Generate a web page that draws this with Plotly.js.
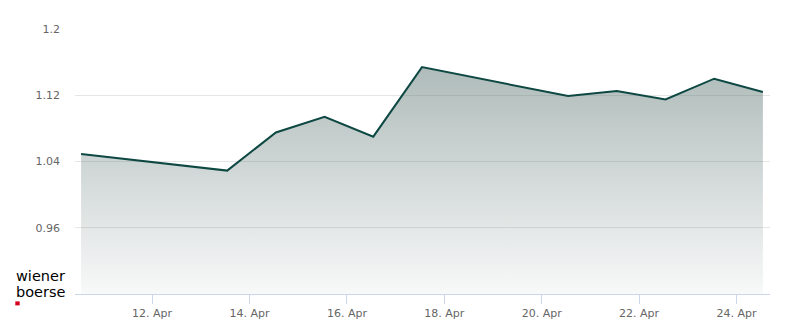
<!DOCTYPE html>
<html>
<head>
<meta charset="utf-8">
<script src="https://cdn.plot.ly/plotly-3.0.1.min.js"></script>
<style>html,body{margin:0;padding:0;background:#fff;}#chart{width:800px;height:324px;}</style>
</head>
<body>
<div id="chart"></div>
<script>
const dates = ['2026-04-10 13:00','2026-04-13 13:00','2026-04-14 13:00','2026-04-15 13:00','2026-04-16 13:00','2026-04-17 13:00','2026-04-20 13:00','2026-04-21 13:00','2026-04-22 13:00','2026-04-23 13:00','2026-04-24 13:00'];
const prices = [1.049, 1.029, 1.075, 1.094, 1.070, 1.154, 1.119, 1.125, 1.115, 1.140, 1.124];
const xTickVals = ['2026-04-12','2026-04-14','2026-04-16','2026-04-18','2026-04-20','2026-04-22','2026-04-24'];
const xTickText = ['12. Apr','14. Apr','16. Apr','18. Apr','20. Apr','22. Apr','24. Apr'];
const yTickVals = [0.96, 1.04, 1.12, 1.2];
const yTickText = ['0.96','1.04','1.12','1.2'];

const trace = {
  x: dates, y: prices, type: 'scatter', mode: 'lines',
  line: {color: '#0e4843', width: 2},
  fill: 'tozeroy',
  fillgradient: {type: 'vertical', start: 0.88, stop: 1.155,
    colorscale: [[0, 'rgba(80,108,104,0.04)'], [1, 'rgba(80,108,104,0.46)']]},
  hoverinfo: 'skip'
};

const logoFont = {family: 'DejaVu Sans, sans-serif', size: 14.5, color: '#000000'};

const layout = {
  width: 800, height: 324,
  margin: {l: 75, r: 30, t: 29, b: 30, pad: 0},
  paper_bgcolor: '#ffffff', plot_bgcolor: '#ffffff',
  showlegend: false,
  font: {family: 'DejaVu Sans, sans-serif', size: 11, color: '#666666'},
  xaxis: {
    type: 'date', range: ['2026-04-10 10:00', '2026-04-24 16:30'],
    tickvals: xTickVals, ticktext: xTickText,
    showgrid: false, zeroline: false,
    showline: true, linecolor: '#ccd6eb', linewidth: 1,
    ticks: 'outside', ticklen: 9, tickcolor: '#ccd6eb', tickwidth: 1,
    tickfont: {family: 'DejaVu Sans, sans-serif', size: 11, color: '#666666'},
    fixedrange: true
  },
  yaxis: {
    range: [0.88, 1.2],
    tickvals: yTickVals, ticktext: yTickText,
    showgrid: true, gridcolor: '#e6e6e6', gridwidth: 1,
    zeroline: false, showline: false, ticks: '',
    ticklabelstandoff: 14,
    tickfont: {family: 'DejaVu Sans, sans-serif', size: 11, color: '#666666'},
    fixedrange: true
  },
  annotations: [
    {text: 'wiener', xref: 'paper', yref: 'paper', x: -0.0878, y: 0.0672, xanchor: 'left', yanchor: 'middle',
     showarrow: false, font: logoFont},
    {text: 'boerse', xref: 'paper', yref: 'paper', x: -0.0878, y: 0.0094, xanchor: 'left', yanchor: 'middle',
     showarrow: false, font: logoFont}
  ],
  shapes: [
    {type: 'rect', xref: 'paper', yref: 'paper', x0: -0.0859, x1: -0.0796, y0: -0.0279, y1: -0.043,
     fillcolor: '#d6001c', line: {width: 0}}
  ]
};

Plotly.newPlot('chart', [trace], layout, {displayModeBar: false, staticPlot: true});
</script>
</body>
</html>
